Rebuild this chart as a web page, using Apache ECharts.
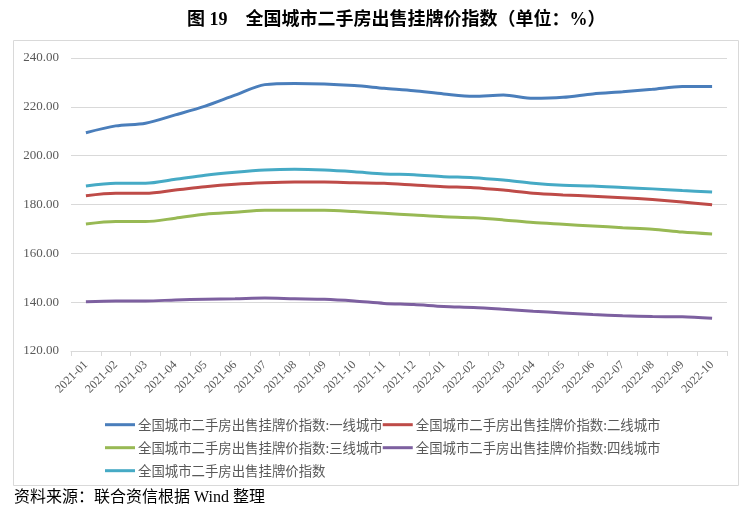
<!DOCTYPE html>
<html><head><meta charset="utf-8">
<script src="https://cdn.jsdelivr.net/npm/echarts@6/dist/echarts.min.js"></script>
<style>html,body{margin:0;padding:0;background:#fff}#c{width:756px;height:513px}</style>
</head><body><div id="c"></div>
<script>
const categories = ['2021-01','2021-02','2021-03','2021-04','2021-05','2021-06','2021-07','2021-08','2021-09','2021-10','2021-11','2021-12','2022-01','2022-02','2022-03','2022-04','2022-05','2022-06','2022-07','2022-08','2022-09','2022-10'];
const tier1 = [209.4,212.2,213.3,216.7,220.3,224.8,229.1,229.6,229.4,228.7,227.6,226.6,225.3,224.3,224.8,223.5,223.9,225.3,226.2,227.2,228.3,228.3];
const tier2 = [183.6,184.6,184.6,185.9,187.3,188.3,188.9,189.2,189.2,188.9,188.7,188.0,187.3,186.9,185.9,184.6,183.9,183.4,182.8,182.0,181.0,179.9];
const tier3 = [172.0,173.0,173.0,174.4,176.0,176.8,177.6,177.6,177.6,177.1,176.4,175.7,175.0,174.6,173.7,172.6,171.9,171.2,170.5,169.9,168.7,167.9];
const tier4 = [140.2,140.5,140.5,140.9,141.2,141.4,141.7,141.4,141.2,140.5,139.5,139.0,138.2,137.8,137.1,136.3,135.6,134.9,134.4,134.1,134.0,133.4];
const total = [187.6,188.7,188.7,190.3,192.0,193.2,194.1,194.4,194.1,193.4,192.5,192.2,191.4,191.0,190.0,188.7,187.9,187.6,187.0,186.4,185.7,185.1];
const seriesNames = ['全国城市二手房出售挂牌价指数:一线城市','全国城市二手房出售挂牌价指数:二线城市','全国城市二手房出售挂牌价指数:三线城市','全国城市二手房出售挂牌价指数:四线城市','全国城市二手房出售挂牌价指数'];
const colors = ['#4A7EBB','#BE4B48','#98B954','#7D60A0','#46AAC5'];
const yTicks = {min:120, max:240, interval:20};

const chart = echarts.init(document.getElementById('c'));
const legendCommon = {
  left: 100, itemWidth: 30, itemHeight: 3, itemGap: 0,
  icon: 'path://M0,0 L30,0 L30,3 L0,3 Z',
  textStyle: {color:'#595959', fontSize:13.4, fontFamily:'"Noto Sans CJK SC", sans-serif', padding:[0,0,0,-2]}
};
const dataSets = [tier1,tier2,tier3,tier4,total];
chart.setOption({
  animation:false,
  color: colors,
  title: {text:'图 19    全国城市二手房出售挂牌价指数（单位：%）', left:182, top:6,
    textStyle:{fontSize:18, fontWeight:'bold', color:'#000', fontFamily:'"Liberation Serif","Noto Sans CJK SC", serif'}},
  graphic: [
    {type:'rect', shape:{x:13.5,y:40.5,width:725,height:445}, style:{fill:'none', stroke:'#d9d9d9', lineWidth:1}},
    {type:'text', left:14, top:490, style:{text:'资料来源：联合资信根据 Wind 整理', fontSize:16, fill:'#000', fontFamily:'"Liberation Serif","Noto Sans CJK SC", serif'}}
  ],
  legend: [
    Object.assign({top:413, data:[seriesNames[0],seriesNames[1]]}, legendCommon),
    Object.assign({top:436, data:[seriesNames[2],seriesNames[3]]}, legendCommon),
    Object.assign({top:459, data:[seriesNames[4]]}, legendCommon)
  ],
  grid: {left:71, right:29, top:58, bottom:162},
  xAxis: {type:'category', data:categories, boundaryGap:true,
    axisLine:{lineStyle:{color:'#d9d9d9'}},
    axisTick:{show:true, alignWithLabel:false, length:5, lineStyle:{color:'#d9d9d9'}},
    axisLabel:{rotate:45, color:'#595959', fontSize:12, interval:0, margin:12, fontFamily:'"Liberation Serif", serif'}},
  yAxis: {type:'value', min:yTicks.min, max:yTicks.max, interval:yTicks.interval,
    axisLine:{show:false}, axisTick:{show:false},
    splitLine:{lineStyle:{color:'#d9d9d9'}},
    axisLabel:{color:'#595959', fontSize:13, margin:12, fontFamily:'"Liberation Serif", serif', formatter:v=>v.toFixed(2)}},
  series: dataSets.map((d,i)=>({name:seriesNames[i], type:'line', data:d, smooth:0.3, symbol:'none',
    lineStyle:{width:3, color:colors[i]}}))
});
</script></body></html>
